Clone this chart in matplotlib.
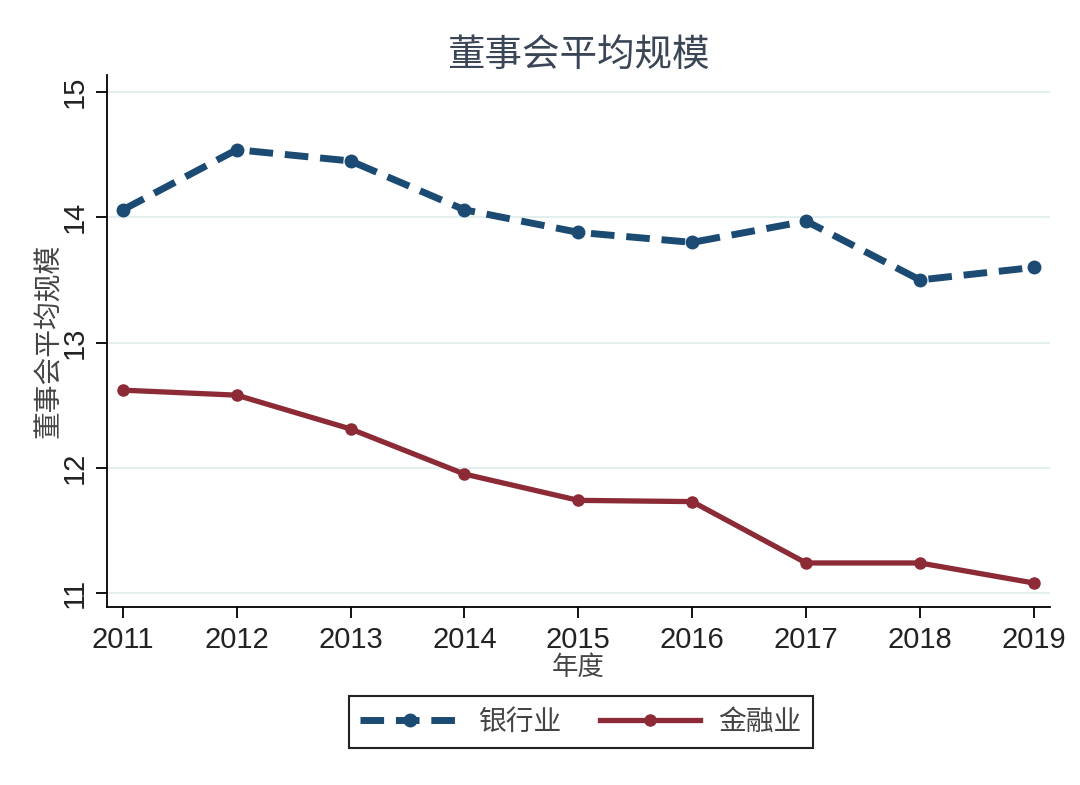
import matplotlib.pyplot as plt

plt.rcParams['font.family'] = ['Noto Sans CJK SC', 'DejaVu Sans']

years = [2011, 2012, 2013, 2014, 2015, 2016, 2017, 2018, 2019]
bank = [14.06, 14.54, 14.45, 14.06, 13.88, 13.80, 13.97, 13.50, 13.60]
finance = [12.62, 12.58, 12.31, 11.95, 11.74, 11.73, 11.24, 11.24, 11.08]
yticks = [11, 12, 13, 14, 15]

fig = plt.figure(figsize=(10.8, 7.85), dpi=100)
ax = fig.add_axes([0.099, 0.227, 0.873, 0.678])

ax.plot(years, bank, color='#1b4a73', lw=5.0, dashes=(3.4, 1.7),
        marker='o', ms=9, label='银行业')
ax.plot(years, finance, color='#8c2a36', lw=3.8,
        marker='o', ms=8, label='金融业')

ax.set_xlim(2010.86, 2019.14)
ax.set_ylim(10.89, 15.14)
ax.set_xticks(years)
ax.set_yticks(yticks)
ax.set_yticklabels([str(v) for v in yticks], rotation=90, va='center',
                   family=['Liberation Sans'])
ax.set_xticklabels([str(v) for v in years], family=['Liberation Sans'])
ax.tick_params(axis='both', labelsize=21, length=8, width=1.3,
               colors='black', labelcolor='#222222')
ax.tick_params(axis='x', pad=6)
ax.tick_params(axis='y', pad=5)
ax.grid(axis='y', color='#e3eeee', lw=1.5)
ax.set_axisbelow(True)
for s in ['top', 'right']:
    ax.spines[s].set_visible(False)
for s in ['left', 'bottom']:
    ax.spines[s].set_linewidth(1.3)

ax.set_title('董事会平均规模', fontsize=27, color='#3a4656', pad=6)
ax.set_xlabel('年度', fontsize=19, color='#444444', labelpad=0)
ax.set_ylabel('董事会平均规模', fontsize=20, color='#444444', labelpad=-2)

leg = fig.legend(loc='center', bbox_to_anchor=(0.538, 0.080), ncol=2,
                 fontsize=20, handlelength=3.6, columnspacing=1.4,
                 fancybox=False, edgecolor='#222222', framealpha=1,
                 borderpad=0.4, handletextpad=0.65)
leg.get_frame().set_linewidth(1.5)
for t in leg.get_texts():
    t.set_color('#444444')

plt.savefig('out.png')
